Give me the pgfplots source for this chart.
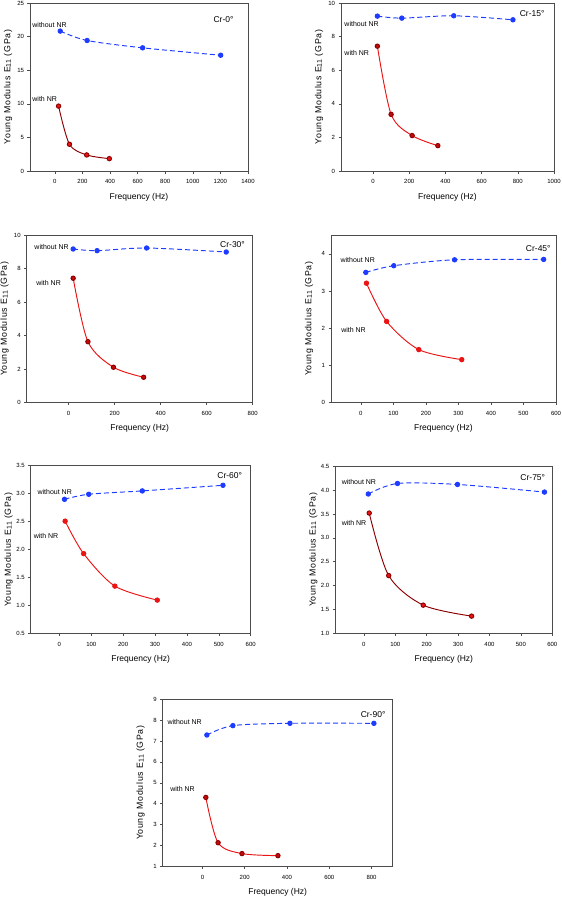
\documentclass[border=0pt]{standalone}
\usepackage{fontspec}
\setmainfont{Liberation Sans}
\newfontfamily\ylfont[LetterSpace=8]{Liberation Sans}
\usepackage{pgfplots}
\pgfplotsset{compat=1.18}
\definecolor{myblue}{RGB}{30,60,255}
\definecolor{myred}{RGB}{235,20,20}
\definecolor{mydred}{RGB}{140,0,0}
\definecolor{mkred}{RGB}{195,10,10}
\tikzset{
  lab/.style={anchor=west, inner sep=0pt, font=\fontsize{7}{8}\selectfont},
  cr/.style={anchor=west, inner sep=0pt, font=\fontsize{8.5}{10}\selectfont},
}
\pgfplotsset{
  panel/.style={
    scale only axis, anchor=north west,
    axis line style={black!70, line width=0.9pt},
    tick style={black!70, line width=0.6pt},
    tick align=outside, major tick length=2.5pt,
    xtick pos=bottom, ytick pos=left,
    ticklabel style={font=\fontsize{6}{7}\selectfont},
    xticklabel style={yshift=-2.5pt},
    /pgf/number format/assume math mode=true,
    /pgf/number format/1000 sep={},
    xlabel={Frequency (Hz)},
    ylabel={Young Modulus E{\fontsize{7}{8}\selectfont\raisebox{-0.6pt}{11}} (GPa)},
    every axis x label/.style={at={([yshift=-26pt]axis description cs:0.5,0)}, anchor=center, font=\fontsize{8.5}{10}\selectfont},
    every axis y label/.style={at={([xshift=-22pt]axis description cs:0,0.5)}, rotate=90, anchor=center, font=\ylfont\fontsize{8.8}{10}\selectfont},
    clip=false,
  },
  wo/.style={myblue, line width=0.95pt, dash pattern=on 5pt off 3pt, smooth, mark=*, mark size=2.2pt, mark options={solid, fill=myblue, draw=myblue}},
  wi/.style={myred, line width=0.95pt, solid, smooth, mark=*, mark size=2.2pt, mark options={solid, fill=mkred, draw=mydred}},
  wid/.style={mydred, line width=0.95pt, solid, smooth, mark=*, mark size=2.2pt, mark options={solid, fill=myred, draw=mydred}},
}
\begin{document}
\begin{tikzpicture}
\useasboundingbox (0,0) rectangle (562pt,-898pt);
% Panel 1 Cr-0
\begin{axis}[panel, at={(30pt,-3pt)}, width=218pt, height=168pt,
  xmin=-180, xmax=1400, ymin=0, ymax=25,
  xtick={0,200,...,1400}, ytick={0,5,...,25}]
\addplot[wo] coordinates {(39,20.82) (234,19.42) (636,18.33) (1202,17.23)};
\addplot[wid] coordinates {(27,9.66) (106,3.98) (231,2.39) (395,1.84)};
\node[lab] at (axis cs:-164,21.7) {without NR};
\node[lab] at (axis cs:-164,10.7) {with NR};
\node[cr] at (axis cs:1149,22.6) {Cr-0°};
\end{axis}
% Panel 2 Cr-15
\begin{axis}[panel, at={(341pt,-3pt)}, width=213pt, height=168pt,
  xmin=-177, xmax=1000, ymin=0, ymax=10,
  xtick={0,200,...,1000}, ytick={0,2,...,10}]
\addplot[wo] coordinates {(24,9.22) (159,9.1) (446,9.24) (773,9.0)};
\addplot[wi] coordinates {(24,7.43) (100,3.37) (216,2.11) (358,1.51)};
\node[lab] at (axis cs:-159,8.75) {without NR};
\node[lab] at (axis cs:-159,7.05) {with NR};
\node[cr] at (axis cs:810,9.4) {Cr-15°};
\end{axis}
% Panel 3 Cr-30
\begin{axis}[panel, at={(26.7pt,-235.3pt)}, width=226pt, height=167pt,
  xmin=-182, xmax=800, ymin=0, ymax=10,
  xtick={0,200,...,800}, ytick={0,2,...,10}]
\addplot[wo] coordinates {(20,9.18) (124,9.08) (339,9.24) (685,9.0)};
\addplot[wi] coordinates {(20,7.43) (84,3.63) (195,2.1) (326,1.5)};
\node[lab] at (axis cs:-149,9.28) {without NR};
\node[lab] at (axis cs:-141,7.17) {with NR};
\node[cr] at (axis cs:658,9.42) {Cr-30°};
\end{axis}
% Panel 4 Cr-45
\begin{axis}[panel, at={(331pt,-235.3pt)}, width=225pt, height=167pt,
  xmin=-92, xmax=600, ymin=0, ymax=4.5,
  xtick={0,100,...,600}, ytick={0,1,...,4}]
\addplot[wo] coordinates {(15,3.5) (101,3.68) (288,3.84) (562,3.85)};
\addplot[wi, mark options={fill=myred, draw=myred}] coordinates {(17,3.21) (79,2.18) (178,1.42) (310,1.15)};
\node[lab] at (axis cs:-63,3.83) {without NR};
\node[lab] at (axis cs:-61,1.94) {with NR};
\node[cr] at (axis cs:507,4.14) {Cr-45°};
\end{axis}
% Panel 5 Cr-60
\begin{axis}[panel, at={(30.7pt,-465.7pt)}, width=220pt, height=168pt,
  xmin=-90, xmax=600, ymin=0.5, ymax=3.5,
  xtick={0,100,...,600}, ytick={0.5,1,...,3.5},
  yticklabel style={/pgf/number format/.cd, fixed, fixed zerofill, precision=1}]
\addplot[wo] coordinates {(16,2.90) (92,2.99) (260,3.05) (513,3.15)};
\addplot[wi, mark options={fill=myred, draw=myred}] coordinates {(18,2.51) (76,1.93) (174,1.35) (307,1.10)};
\node[lab] at (axis cs:-69,3.03) {without NR};
\node[lab] at (axis cs:-81,2.25) {with NR};
\node[cr] at (axis cs:495,3.32) {Cr-60°};
\end{axis}
% Panel 6 Cr-75
\begin{axis}[panel, at={(335.3pt,-466.3pt)}, width=217pt, height=167pt,
  xmin=-91, xmax=600, ymin=1, ymax=4.5,
  xtick={0,100,...,600}, ytick={1,1.5,...,4.5},
  yticklabel style={/pgf/number format/.cd, fixed, fixed zerofill, precision=1}]
\addplot[wo] coordinates {(14,3.92) (107,4.14) (298,4.12) (575,3.96)};
\addplot[wid] coordinates {(17,3.52) (79,2.21) (189,1.59) (343,1.36)};
\node[lab] at (axis cs:-71,4.18) {without NR};
\node[lab] at (axis cs:-71,3.31) {with NR};
\node[cr] at (axis cs:498,4.27) {Cr-75°};
\end{axis}
% Panel 7 Cr-90
\begin{axis}[panel, at={(162.7pt,-699.3pt)}, width=230pt, height=167pt,
  xmin=-188, xmax=900, ymin=1, ymax=9,
  xtick={0,200,...,800}, ytick={1,2,...,9}]
\addplot[wo] coordinates {(21,7.29) (144,7.74) (414,7.85) (811,7.85)};
\addplot[wi] coordinates {(16,4.30) (74,2.13) (187,1.61) (357,1.51)};
\node[lab] at (axis cs:-166,7.93) {without NR};
\node[lab] at (axis cs:-153,4.7) {with NR};
\node[cr] at (axis cs:748,8.28) {Cr-90°};
\end{axis}
\end{tikzpicture}
\end{document}
